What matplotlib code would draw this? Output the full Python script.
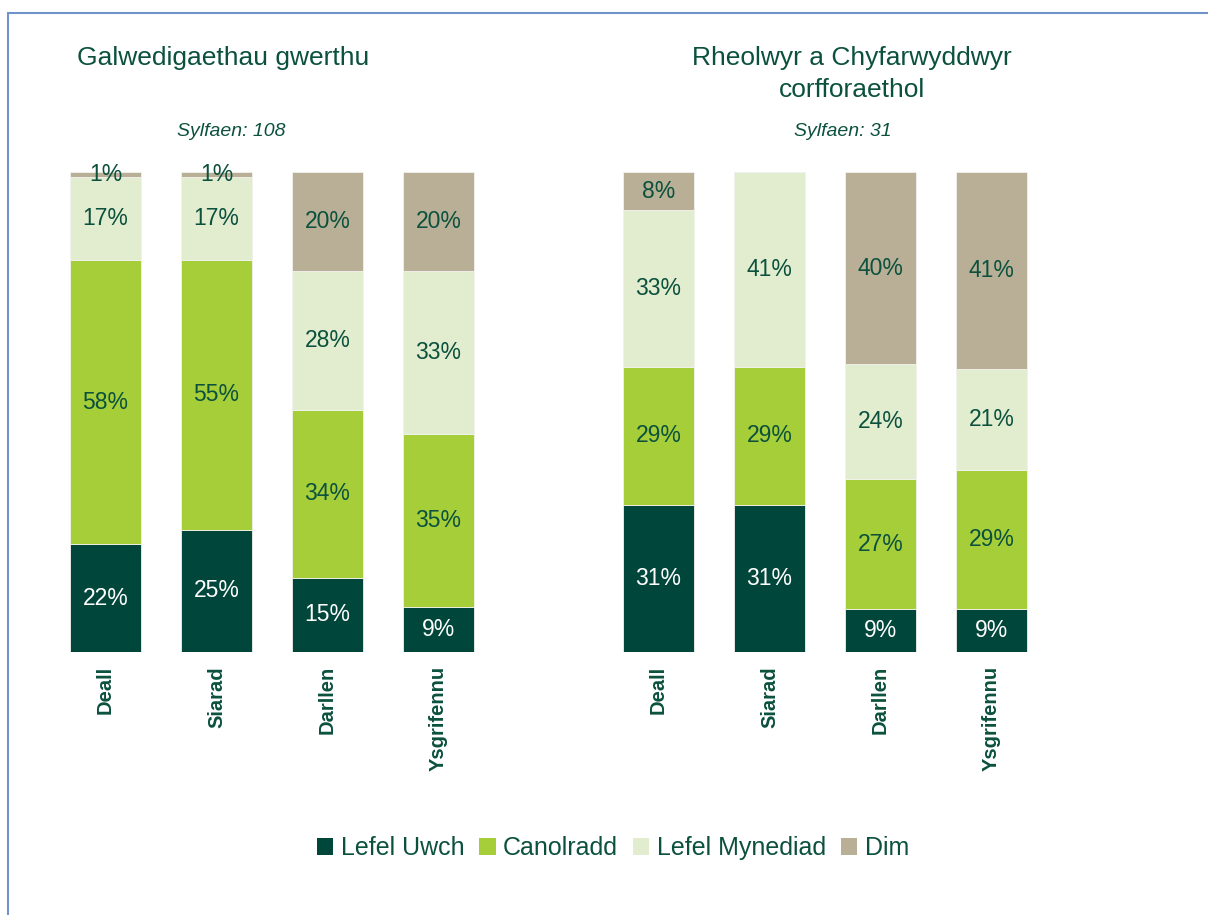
import matplotlib.pyplot as plt
import matplotlib.patches as patches
import numpy as np

plt.rcParams['font.family'] = ['Liberation Sans', 'DejaVu Sans']

categories = ['Deall', 'Siarad', 'Darllen', 'Ysgrifennu']
series = ['Lefel Uwch', 'Canolradd', 'Lefel Mynediad', 'Dim']
colors = ['#00463a', '#a6ce39', '#e2edcf', '#b8af96']

# percentages as labelled, per series (bottom to top)
left_title = 'Galwedigaethau gwerthu'
left_base = 'Sylfaen: 108'
left_vals = [
    [22, 25, 15, 9],   # Lefel Uwch
    [58, 55, 34, 35],  # Canolradd
    [17, 17, 28, 33],  # Lefel Mynediad
    [1, 1, 20, 20],    # Dim
]

right_title = 'Rheolwyr a Chyfarwyddwyr\ncorfforaethol'
right_base = 'Sylfaen: 31'
right_vals = [
    [31, 31, 9, 9],
    [29, 29, 27, 29],
    [33, 41, 24, 21],
    [8, 0, 40, 41],
]

text_col = '#0b513d'

fig = plt.figure(figsize=(12.08, 9.15), dpi=100)

# blue frame
fig.patches.append(patches.Rectangle((8 / 1208, -0.1), 1.2, 1 - 13 / 915 + 0.1,
                                     transform=fig.transFigure, fill=False,
                                     edgecolor='#6f93cc', linewidth=1.5))


def panel(left, vals, title, base, title_x, title_y, base_x):
    ax = fig.add_axes([left, 0.2874, 0.3675, 0.5246])
    v = np.array(vals, dtype=float)
    tot = v.sum(axis=0)
    frac = v / tot * 100
    x = np.arange(len(categories))
    bottom = np.zeros(len(categories))
    for i in range(len(series)):
        ax.bar(x, frac[i], 0.64, bottom=bottom, color=colors[i],
               edgecolor='#f2f2ee', linewidth=0.6, label=series[i])
        for j in range(len(categories)):
            if v[i, j] > 0:
                c = 'white' if i == 0 else text_col
                ax.text(x[j], bottom[j] + frac[i, j] / 2, f'{int(v[i, j])}%',
                        ha='center', va='center', fontsize=16.5, color=c)
        bottom += frac[i]
    ax.set_xlim(-0.5, 3.5)
    ax.set_ylim(0, 100)
    ax.set_xticks(x)
    ax.set_xticklabels(categories, rotation=90, fontsize=14.5, fontweight='bold',
                       color=text_col, va='top')
    ax.tick_params(axis='x', length=0, pad=10)
    ax.set_yticks([])
    for s in ax.spines.values():
        s.set_visible(False)
    fig.text(title_x, 1 - title_y / 915, title, ha='center', va='center',
             fontsize=19, color=text_col, linespacing=1.45)
    fig.text(base_x, 1 - 131 / 915, base, ha='center', va='center', fontsize=14,
             style='italic', color=text_col)
    return ax


ax1 = panel(50 / 1208, left_vals, left_title, left_base, 223 / 1208, 58, 231 / 1208)
ax2 = panel(603 / 1208, right_vals, right_title, right_base, 852 / 1208, 74, 843 / 1208)

handles = [patches.Patch(facecolor=c, edgecolor='none') for c in colors]
fig.legend(handles, series, loc='center', bbox_to_anchor=(613 / 1208, 1 - 848 / 915),
           ncol=4, frameon=False, fontsize=18, handlelength=0.65, handleheight=0.65,
           handletextpad=0.3, columnspacing=0.6, labelcolor=text_col)

fig.savefig('out.png', dpi=100)
